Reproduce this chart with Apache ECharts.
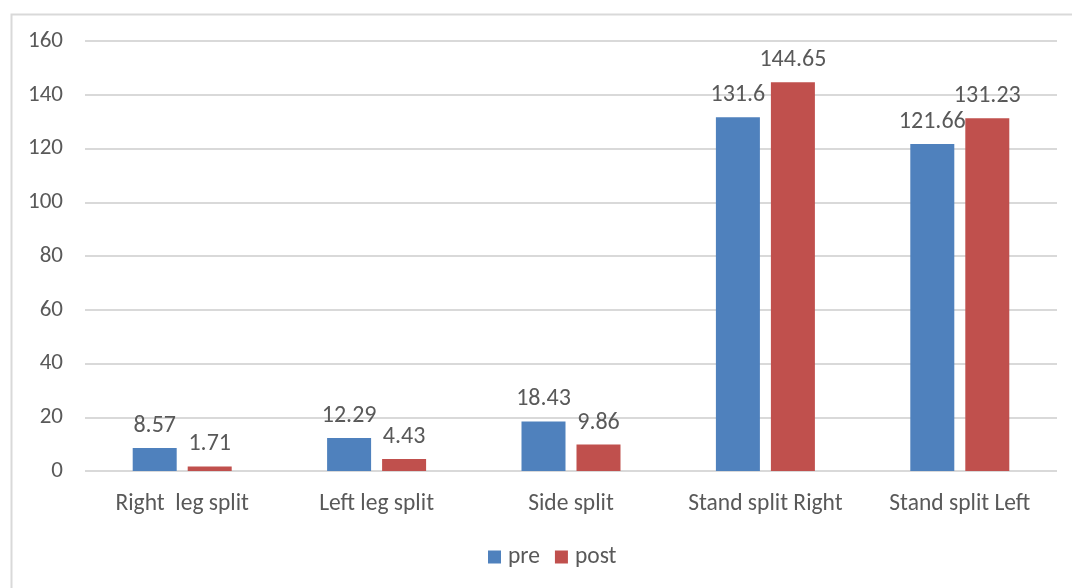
<!DOCTYPE html>
<html>
<head>
<meta charset="utf-8">
<style>
  html, body { margin: 0; padding: 0; background: #ffffff; }
  #chart { width: 1072px; height: 588px; }
</style>
<script src="https://cdn.jsdelivr.net/npm/echarts@6/dist/echarts.min.js"></script>
</head>
<body>
<div id="chart"></div>
<script>
// Flexibility test results, before and after training
const categories = ['Right  leg split', 'Left leg split', 'Side split', 'Stand split Right', 'Stand split Left'];
const preValues = [8.57, 12.29, 18.43, 131.6, 121.66];
const postValues = [1.71, 4.43, 9.86, 144.65, 131.23];
const seriesNames = ['pre', 'post'];

const textColor = '#595959';
const fontFamily = 'Carlito, Lato, sans-serif';

const chart = echarts.init(document.getElementById('chart'), null, { renderer: 'canvas' });

const labelStyle = {
  show: true,
  position: 'top',
  distance: 10,
  color: textColor,
  fontSize: 24,
  fontFamily: fontFamily
};

chart.setOption({
  animation: false,
  backgroundColor: '#ffffff',
  graphic: [{
    type: 'rect',
    left: 9,
    top: 12,
    shape: { width: 1200, height: 700 },
    style: { fill: 'none', stroke: '#d9d9d9', lineWidth: 2 },
    silent: true
  }],
  grid: { left: 85, right: 15, top: 41, bottom: 117 },
  legend: {
    data: seriesNames,
    bottom: 14,
    left: 483,
    itemWidth: 13,
    itemHeight: 13,
    itemGap: 15,
    icon: 'rect',
    textStyle: { color: textColor, fontSize: 23.5, fontFamily: fontFamily, padding: [0, 0, 0, 2] }
  },
  xAxis: {
    type: 'category',
    data: categories,
    axisLine: { show: false },
    axisTick: { show: false },
    axisLabel: { color: textColor, fontSize: 23.5, fontFamily: fontFamily, margin: 21, interval: 0 }
  },
  yAxis: {
    type: 'value',
    min: 0,
    max: 160,
    interval: 20,
    axisLine: { show: false },
    axisTick: { show: false },
    axisLabel: { color: textColor, fontSize: 23, fontFamily: fontFamily, margin: 22 },
    splitLine: { lineStyle: { color: '#d9d9d9', width: 2 } }
  },
  series: [
    {
      name: seriesNames[0],
      type: 'bar',
      data: preValues,
      barWidth: 44,
      barGap: '25%',
      itemStyle: { color: '#4f81bd' },
      label: labelStyle
    },
    {
      name: seriesNames[1],
      type: 'bar',
      data: postValues,
      barWidth: 44,
      barGap: '25%',
      itemStyle: { color: '#c0504d' },
      label: labelStyle
    }
  ]
});
</script>
</body>
</html>
